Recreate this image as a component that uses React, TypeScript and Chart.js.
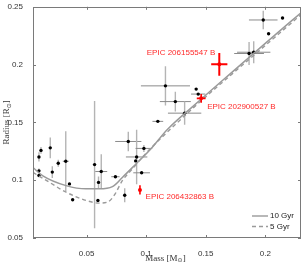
import React, { useEffect, useRef } from "react";
import { Chart, registerables } from "chart.js";
Chart.register(...registerables);

const massTicks = [0.05, 0.1, 0.15, 0.2];
const radiusTicks = [0.05, 0.1, 0.15, 0.2, 0.25];

const obsMass = [0.0117, 0.010, 0.0195, 0.0262, 0.0325, 0.010, 0.010, 0.0212, 0.0356, 0.0383, 0.0567, 0.060, 0.0623, 0.0595, 0.0742, 0.082, 0.085, 0.0912, 0.092, 0.0981, 0.0962, 0.1098, 0.1162, 0.1245, 0.142, 0.1437, 0.1323, 0.1983, 0.2145, 0.2028, 0.1864, 0.1903];
const obsRadius = [0.1258, 0.1201, 0.128, 0.1147, 0.1164, 0.1081, 0.1041, 0.107, 0.0968, 0.0831, 0.1135, 0.0981, 0.1075, 0.0825, 0.103, 0.087, 0.1335, 0.1167, 0.1201, 0.1275, 0.1064, 0.1509, 0.1816, 0.168, 0.1788, 0.1745, 0.158, 0.2386, 0.2403, 0.2267, 0.2096, 0.2107];
const obsMassErr = [0, 0, 0, 0, 0.0025, 0, 0, 0, 0, 0, 0, 0, 0.005, 0, 0.0035, 0, 0.011, 0, 0.009, 0.007, 0.007, 0.0045, 0.0206, 0.013, 0, 0.006, 0.014, 0.012, 0, 0, 0.0125, 0.014];
const obsRadiusErr = [0.003, 0.004, 0.009, 0.003, 0.026, 0.002, 0, 0.005, 0, 0, 0.055, 0.005, 0.015, 0, 0, 0.006, 0.0085, 0, 0.0235, 0.003, 0, 0, 0.017, 0.0085, 0, 0, 0.01, 0.008, 0, 0, 0.01, 0.0095];

const epicNames = ["EPIC 206155547 B", "EPIC 202900527 B", "EPIC 206432863 B"];
const epicMass = [0.1614, 0.1462, 0.0948];
const epicRadius = [0.2002, 0.1708, 0.0916];
const epicMassErr = [0.0068, 0.0037, 0];
const epicRadiusErr = [0.0098, 0.0037, 0.004];
const epicLabelMass = [0.158, 0.1512, 0.0995];
const epicLabelRadius = [0.2098, 0.1637, 0.0859];
const epicLabelAlign = ["right", "left", "left"];

const gyr10Mass = [0.005, 0.0133, 0.0328, 0.0495, 0.0606, 0.0717, 0.08, 0.0912, 0.1037, 0.1178, 0.14, 0.17, 0.2, 0.23];
const gyr10Radius = [0.1109, 0.1038, 0.0953, 0.0925, 0.0925, 0.0944, 0.1024, 0.1138, 0.1267, 0.1438, 0.1645, 0.1916, 0.2184, 0.2449];
const gyr5Mass = [0.005, 0.0189, 0.0328, 0.0495, 0.0606, 0.0675, 0.0731, 0.08, 0.0883, 0.1, 0.12, 0.14, 0.17, 0.2, 0.23];
const gyr5Radius = [0.1067, 0.0981, 0.0896, 0.0825, 0.0802, 0.081, 0.0868, 0.0996, 0.1096, 0.1235, 0.1438, 0.163, 0.19, 0.2165, 0.2432];

const toXY = (xs: number[], ys: number[]) => xs.map((x, i) => ({ x, y: ys[i] }));

const decor = {
  id: "decor",
  beforeDatasetsDraw(chart: any) {
    const { ctx, chartArea: a, scales } = chart;
    const x = scales.x, y = scales.y;
    ctx.save();
    ctx.beginPath();
    ctx.rect(a.left, a.top, a.right - a.left, a.bottom - a.top);
    ctx.clip();
    for (let i = 0; i < obsMass.length; i++) {
      const px = x.getPixelForValue(obsMass[i]);
      const py = y.getPixelForValue(obsRadius[i]);
      if (obsRadiusErr[i] > 0) {
        ctx.strokeStyle = "#b4b4b4";
        ctx.lineWidth = 1.4;
        ctx.beginPath();
        ctx.moveTo(px, y.getPixelForValue(obsRadius[i] - obsRadiusErr[i]));
        ctx.lineTo(px, y.getPixelForValue(obsRadius[i] + obsRadiusErr[i]));
        ctx.stroke();
      }
      if (obsMassErr[i] > 0) {
        ctx.strokeStyle = "#8a8a8a";
        ctx.lineWidth = 1;
        ctx.beginPath();
        ctx.moveTo(x.getPixelForValue(obsMass[i] - obsMassErr[i]), py);
        ctx.lineTo(x.getPixelForValue(obsMass[i] + obsMassErr[i]), py);
        ctx.stroke();
      }
    }
    ctx.restore();
  },
  afterDatasetsDraw(chart: any) {
    const { ctx, chartArea: a, scales } = chart;
    const x = scales.x, y = scales.y;
    ctx.save();
    // red markers
    for (let i = 0; i < epicMass.length; i++) {
      const px = x.getPixelForValue(epicMass[i]);
      const py = y.getPixelForValue(epicRadius[i]);
      ctx.strokeStyle = "#ff0000";
      ctx.lineWidth = i === 0 ? 2 : 1.6;
      ctx.beginPath();
      if (epicRadiusErr[i] > 0) {
        ctx.moveTo(px, y.getPixelForValue(epicRadius[i] - epicRadiusErr[i]));
        ctx.lineTo(px, y.getPixelForValue(epicRadius[i] + epicRadiusErr[i]));
      }
      if (epicMassErr[i] > 0) {
        ctx.moveTo(x.getPixelForValue(epicMass[i] - epicMassErr[i]), py);
        ctx.lineTo(x.getPixelForValue(epicMass[i] + epicMassErr[i]), py);
      }
      ctx.stroke();
      ctx.fillStyle = "#ff0000";
      ctx.beginPath();
      ctx.arc(px, py, 2, 0, Math.PI * 2);
      ctx.fill();
      ctx.font = "8px 'Liberation Sans', Arial, sans-serif";
      ctx.textAlign = epicLabelAlign[i] as CanvasTextAlign;
      ctx.textBaseline = "middle";
      ctx.fillStyle = "#ff2a2a";
      ctx.fillText(epicNames[i], x.getPixelForValue(epicLabelMass[i]), y.getPixelForValue(epicLabelRadius[i]));
    }
    // box
    ctx.strokeStyle = "#7a7a7a";
    ctx.lineWidth = 1;
    ctx.strokeRect(Math.round(a.left) + 0.5, Math.round(a.top) + 0.5, Math.round(a.right - a.left) - 1, Math.round(a.bottom - a.top) - 1);
    ctx.beginPath();
    for (const v of massTicks) {
      const px = Math.round(x.getPixelForValue(v)) + 0.5;
      ctx.moveTo(px, a.bottom);
      ctx.lineTo(px, a.bottom - 3);
      ctx.moveTo(px, a.top);
      ctx.lineTo(px, a.top + 3);
    }
    for (const v of radiusTicks) {
      const py = Math.round(y.getPixelForValue(v)) + 0.5;
      ctx.moveTo(a.left, py);
      ctx.lineTo(a.left + 3, py);
      ctx.moveTo(a.right, py);
      ctx.lineTo(a.right - 3, py);
    }
    ctx.stroke();
    // legend
    const lx0 = a.right - 49, lx1 = a.right - 33;
    const ly1 = a.bottom - 22, ly2 = a.bottom - 11.5;
    ctx.strokeStyle = "#9a9a9a";
    ctx.lineWidth = 1.4;
    ctx.beginPath();
    ctx.moveTo(lx0, ly1);
    ctx.lineTo(lx1, ly1);
    ctx.stroke();
    ctx.setLineDash([4, 3]);
    ctx.beginPath();
    ctx.moveTo(lx0, ly2);
    ctx.lineTo(lx1, ly2);
    ctx.stroke();
    ctx.setLineDash([]);
    ctx.fillStyle = "#222";
    ctx.font = "8px 'Liberation Sans', Arial, sans-serif";
    ctx.textAlign = "left";
    ctx.textBaseline = "middle";
    ctx.fillText("10 Gyr", lx1 + 2, ly1);
    ctx.fillText("5 Gyr", lx1 + 2, ly2);
    // axis titles
    const drawTitle = (main: string, sub: string, cx: number, baseY: number) => {
      ctx.font = "9px 'Liberation Serif', serif";
      const w1 = ctx.measureText(main).width;
      ctx.font = "6px 'DejaVu Sans', sans-serif";
      const w2 = ctx.measureText(sub).width;
      ctx.font = "9px 'Liberation Serif', serif";
      const w3 = ctx.measureText("]").width;
      const total = w1 + w2 + w3;
      let sx = cx - total / 2;
      ctx.textAlign = "left";
      ctx.textBaseline = "alphabetic";
      ctx.fillStyle = "#333";
      ctx.fillText(main, sx, baseY);
      sx += w1;
      ctx.font = "6px 'DejaVu Sans', sans-serif";
      ctx.fillText(sub, sx, baseY + 1.5);
      sx += w2;
      ctx.font = "9px 'Liberation Serif', serif";
      ctx.fillText("]", sx, baseY);
    };
    drawTitle("Mass [M", "⊙", (a.left + a.right) / 2 - 1.5, 260.5);
    ctx.save();
    ctx.translate(9, (a.top + a.bottom) / 2);
    ctx.rotate(-Math.PI / 2);
    drawTitle("Radius [R", "⊙", 0, 0);
    ctx.restore();
    ctx.restore();
  },
};

export default function App() {
  const ref = useRef<HTMLCanvasElement>(null);
  useEffect(() => {
    document.body.style.margin = "0";
    const tickFont = { family: "'Liberation Sans', Arial, sans-serif", size: 8 };
    const chart = new Chart(ref.current!, {
      type: "scatter",
      data: {
        datasets: [
          {
            type: "line",
            label: "10 Gyr",
            data: toXY(gyr10Mass, gyr10Radius),
            borderColor: "#9a9a9a",
            borderWidth: 1.5,
            pointRadius: 0,
            cubicInterpolationMode: "monotone",
            fill: false,
          } as any,
          {
            type: "line",
            label: "5 Gyr",
            data: toXY(gyr5Mass, gyr5Radius),
            borderColor: "#9a9a9a",
            borderWidth: 1.4,
            borderDash: [4, 3],
            pointRadius: 0,
            cubicInterpolationMode: "monotone",
            fill: false,
          } as any,
          {
            label: "observed",
            data: toXY(obsMass, obsRadius),
            backgroundColor: "#000",
            borderColor: "#000",
            pointRadius: 1.7,
            borderWidth: 0,
          },
        ],
      },
      options: {
        animation: false,
        responsive: false,
        layout: { padding: { top: 4, right: 2, left: 0, bottom: 0 } },
        plugins: { legend: { display: false }, tooltip: { enabled: false } },
        scales: {
          x: {
            type: "linear",
            min: 0.005,
            max: 0.23,
            grid: { display: false },
            border: { display: false },
            afterBuildTicks: (s: any) => { s.ticks = massTicks.map((v) => ({ value: v })); },
            afterFit: (s: any) => { s.height = 25; },
            ticks: { font: tickFont, color: "#333", padding: 3, maxRotation: 0, callback: (v: any) => String(v) },
          },
          y: {
            type: "linear",
            min: 0.05,
            max: 0.25,
            grid: { display: false },
            border: { display: false },
            afterBuildTicks: (s: any) => { s.ticks = radiusTicks.map((v) => ({ value: v })); },
            afterFit: (s: any) => { s.width = 33; },
            ticks: { font: tickFont, color: "#333", padding: 2, callback: (v: any) => String(v) },
          },
        },
      },
      plugins: [decor],
    } as any);
    return () => chart.destroy();
  }, []);
  return (
    <div style={{ width: 305, height: 263 }}>
      <canvas ref={ref} width={305} height={263} style={{ display: "block" }} />
    </div>
  );
}
